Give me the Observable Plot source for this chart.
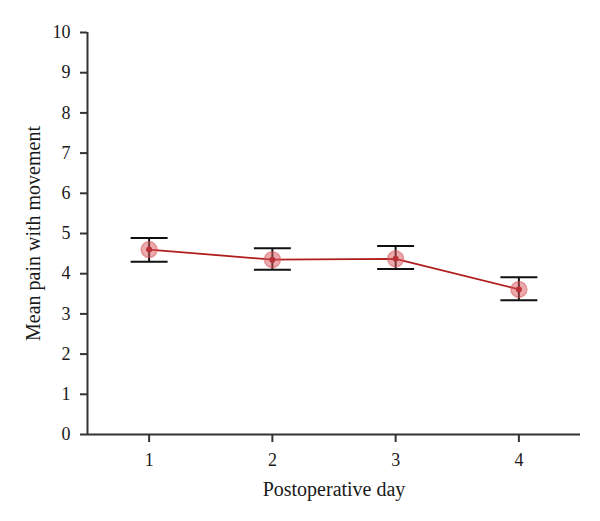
<!DOCTYPE html>
<html>
<head>
<meta charset="utf-8">
<script src="https://cdn.jsdelivr.net/npm/d3@7"></script>
<script src="https://cdn.jsdelivr.net/npm/@observablehq/plot@0.6"></script>
<style>
  html, body { margin: 0; padding: 0; background: #fff; }
  #chart svg { display: block; }
  #chart svg text { font-family: 'Liberation Serif', 'DejaVu Serif', serif; font-size: 18px !important; fill: #1a1a1a; }
  #chart svg .axis-title text, #chart svg text.axis-title { font-size: 20px !important; }
</style>
</head>
<body>
<div id="chart"></div>
<script>
const days = [1, 2, 3, 4];
const meanPain = [4.60, 4.35, 4.37, 3.61];
const upper = [4.89, 4.63, 4.69, 3.91];
const lower = [4.30, 4.10, 4.12, 3.34];
const yTicks = [0, 1, 2, 3, 4, 5, 6, 7, 8, 9, 10];
const xTicks = [1, 2, 3, 4];

const data = days.map((d, i) => ({day: d, mean: meanPain[i], hi: upper[i], lo: lower[i]}));
const capHalf = 0.15;
const caps = data.flatMap(d => [
  {x1: d.day - capHalf, x2: d.day + capHalf, y: d.hi},
  {x1: d.day - capHalf, x2: d.day + capHalf, y: d.lo}
]);

const chart = Plot.plot({
  width: 600,
  height: 521,
  marginLeft: 87,
  marginRight: 20,
  marginTop: 32,
  marginBottom: 87,
  style: {fontFamily: "'Liberation Serif', 'DejaVu Serif', serif", fontSize: "18px", color: "#1a1a1a", background: "#fff"},
  x: {domain: [0.5, 4.5]},
  y: {domain: [0, 10]},
  marks: [
    Plot.axisX({ticks: xTicks, tickSize: 8, tickPadding: 11, tickFormat: d => d,
      label: null, stroke: "#333", strokeWidth: 2}),
    Plot.axisY({ticks: yTicks, tickSize: 7, tickPadding: 10, tickFormat: d => d,
      label: null, stroke: "#333", strokeWidth: 2}),
    Plot.text(["Postoperative day"], {frameAnchor: "bottom", dy: 61, className: "axis-title", fill: "#1a1a1a"}),
    Plot.text(["Mean pain with movement"], {frameAnchor: "left", textAnchor: "middle", dx: -54, rotate: -90, className: "axis-title", fill: "#1a1a1a"}),
    Plot.ruleY([0], {stroke: "#333", strokeWidth: 2}),
    Plot.ruleX([0.5], {y1: 0, y2: 10, stroke: "#333", strokeWidth: 2}),
    Plot.ruleX(data, {x: "day", y1: "lo", y2: "hi", stroke: "#111", strokeWidth: 2}),
    Plot.link(caps, {x1: "x1", x2: "x2", y1: "y", y2: "y", stroke: "#111", strokeWidth: 2}),
    Plot.line(data, {x: "day", y: "mean", stroke: "#b01e1e", strokeWidth: 1.8}),
    Plot.dot(data, {x: "day", y: "mean", r: 8, fill: "#d9565c", fillOpacity: 0.5, stroke: "#d9565c", strokeOpacity: 0.5, strokeWidth: 1.5}),
    Plot.dot(data, {x: "day", y: "mean", r: 3, fill: "#b8323a", stroke: "none"})
  ]
});
document.getElementById("chart").appendChild(chart);
</script>
</body>
</html>
